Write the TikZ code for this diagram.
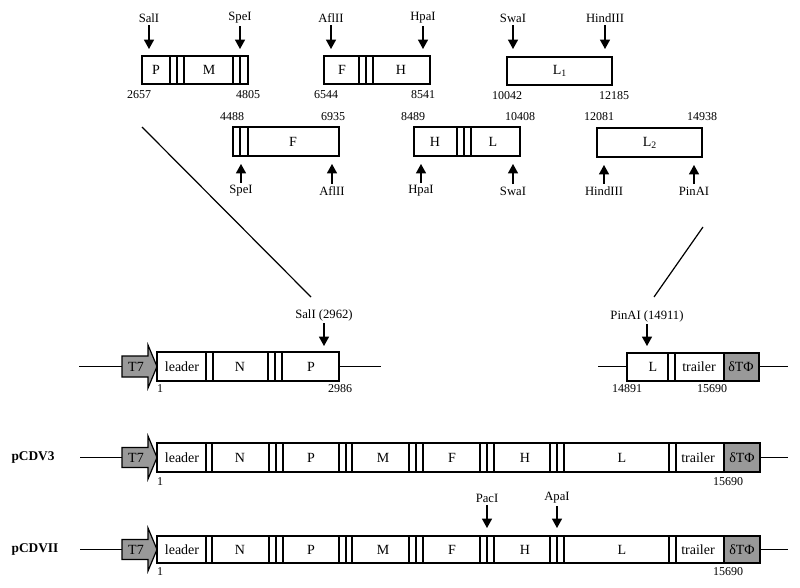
\documentclass[tikz,border=0pt]{standalone}
\usepackage{fontspec}
\setmainfont{Liberation Serif}
\usetikzlibrary{arrows.meta}
\definecolor{promgray}{gray}{0.6}
\begin{document}
\begin{tikzpicture}[x=0.75pt,y=-0.75pt,line width=0.9pt,
  gene/.style={font=\fontsize{10.5}{12}\selectfont},
  site/.style={font=\fontsize{9.5}{11}\selectfont, inner sep=1.5pt},
  ntpos/.style={font=\fontsize{9}{10}\selectfont, inner sep=0pt},
  cut/.style={-{Triangle[length=7pt,width=7.5pt]}},
  plasmid/.style={font=\bfseries\fontsize{10}{12}\selectfont}]
\useasboundingbox (0,0) rectangle (800,588);

% top row of fragments
\draw (142,56) rectangle (248,84);
\foreach \x in {170,177,184,233,240} \draw (\x,56) -- (\x,84);
\node[gene] (pA) at (156,70) {P};
\node[gene] (mA) at (209,70) {M};
\node[site] (salA) at (149,18) {SalI};
\coordinate (salAt) at (149,49);
\draw[cut] (salA) -- (salAt);
\node[site] (speA) at (240,18) {SpeI};
\coordinate (speAt) at (240,49);
\draw[cut] (speA) -- (speAt);
\node[ntpos] (n2657) at (139,95) {2657};
\node[ntpos] (n4805) at (248,95) {4805};

\draw (324,56) rectangle (430,84);
\foreach \x in {359,366,373} \draw (\x,56) -- (\x,84);
\node[gene] (fA) at (342,70) {F};
\node[gene] (hA) at (401,70) {H};
\node[site] (aflA) at (331,18) {AflII};
\coordinate (aflAt) at (331,49);
\draw[cut] (aflA) -- (aflAt);
\node[site] (hpaA) at (423,18) {HpaI};
\coordinate (hpaAt) at (423,49);
\draw[cut] (hpaA) -- (hpaAt);
\node[ntpos] (n6544) at (326,95) {6544};
\node[ntpos] (n8541) at (423,95) {8541};

\draw (507,57) rectangle (612,85);
\node[gene] (lA) at (560,71) {L\textsubscript{1}};
\node[site] (swaA) at (513,18) {SwaI};
\coordinate (swaAt) at (513,49);
\draw[cut] (swaA) -- (swaAt);
\node[site] (hindA) at (605,18) {HindIII};
\coordinate (hindAt) at (605,49);
\draw[cut] (hindA) -- (hindAt);
\node[ntpos] (n10042) at (507,96) {10042};
\node[ntpos] (n12185) at (614,96) {12185};

% second row of fragments
\draw (233,127) rectangle (339,156);
\foreach \x in {240,248} \draw (\x,127) -- (\x,156);
\node[gene] (fB) at (293,142) {F};
\node[ntpos] (n4488) at (232,117) {4488};
\node[ntpos] (n6935) at (333,117) {6935};
\node[site] (speB) at (241,191) {SpeI};
\coordinate (speBt) at (241,164);
\draw[cut] (speB) -- (speBt);
\node[site] (aflB) at (332,191) {AflII};
\coordinate (aflBt) at (332,164);
\draw[cut] (aflB) -- (aflBt);

\draw (414,127) rectangle (520,156);
\foreach \x in {457,464,471} \draw (\x,127) -- (\x,156);
\node[gene] (hB) at (435,142) {H};
\node[gene] (lB) at (493,142) {L};
\node[ntpos] (n8489) at (413,117) {8489};
\node[ntpos] (n10408) at (520,117) {10408};
\node[site] (hpaB) at (421,191) {HpaI};
\coordinate (hpaBt) at (421,164);
\draw[cut] (hpaB) -- (hpaBt);
\node[site] (swaB) at (513,191) {SwaI};
\coordinate (swaBt) at (513,164);
\draw[cut] (swaB) -- (swaBt);

\draw (597,128) rectangle (702,157);
\node[gene] (lC) at (650,143) {L\textsubscript{2}};
\node[ntpos] (n12081) at (599,117) {12081};
\node[ntpos] (n14938) at (702,117) {14938};
\node[site] (hindB) at (604,191) {HindIII};
\coordinate (hindBt) at (604,165);
\draw[cut] (hindB) -- (hindBt);
\node[site] (pinB) at (694,191) {PinAI};
\coordinate (pinBt) at (694,165);
\draw[cut] (pinB) -- (pinBt);

% lines to the end pieces
\draw (142,127) -- (311,297);
\draw (703,227) -- (654,297);

% left end piece
\draw (79,366.5) -- (122,366.5);
\draw[fill=promgray] (122,356) -- (148,356) -- (148,345) -- (157,366.5) -- (148,388) -- (148,377) -- (122,377) -- cycle;
\node[gene] (tC) at (136,366.5) {T7};
\draw (157,352) rectangle (339,381);
\foreach \x in {206,213,268,275,282} \draw (\x,352) -- (\x,381);
\draw (339,366.5) -- (381,366.5);
\node[gene] (leadC) at (182,366.5) {leader};
\node[gene] (nC) at (240,366.5) {N};
\node[gene] (pC) at (311,366.5) {P};
\node[site] (salC) at (324,315) {SalI (2962)};
\coordinate (salCt) at (324,346);
\draw[cut] (salC) -- (salCt);
\node[ntpos] (n1C) at (160,389) {1};
\node[ntpos] (n2986) at (340,389) {2986};

% right end piece
\draw (598,366.5) -- (627,366.5);
\draw[fill=promgray] (724,353) rectangle (759,381);
\draw (627,353) rectangle (759,381);
\foreach \x in {668,675} \draw (\x,353) -- (\x,381);
\draw (759,366.5) -- (788,366.5);
\node[gene] (lD) at (653,367) {L};
\node[gene] (trD) at (699,367) {trailer};
\node[gene] (dtD) at (741,367) {δTΦ};
\node[site] (pinD) at (647,316) {PinAI (14911)};
\coordinate (pinDt) at (647,346);
\draw[cut] (pinD) -- (pinDt);
\node[ntpos] (n14891) at (627,389) {14891};
\node[ntpos] (n15690D) at (712,389) {15690};

% pCDV3
\node[plasmid] (cdv3) at (33,457.5) {pCDV3};
\draw (80,457.5) -- (122,457.5);
\draw[fill=promgray] (122,447.5) -- (148,447.5) -- (148,436) -- (157,457.5) -- (148,479) -- (148,467.5) -- (122,467.5) -- cycle;
\node[gene] (tE) at (136,457.5) {T7};
\draw[fill=promgray] (724,443) rectangle (760,472);
\draw (157,443) rectangle (760,472);
\foreach \x in {206,212,269,276,283,339,346,352,409,416,423,480,487,494,550,557,564,669,676} \draw (\x,443) -- (\x,472);
\draw (760,457.5) -- (788,457.5);
\node[gene] (leadE) at (182,457.5) {leader};
\node[gene] (nE) at (240,457.5) {N};
\node[gene] (pE) at (311,457.5) {P};
\node[gene] (mE) at (383,457.5) {M};
\node[gene] (fE) at (452,457.5) {F};
\node[gene] (hE) at (525,457.5) {H};
\node[gene] (lE) at (622,457.5) {L};
\node[gene] (trE) at (698,457.5) {trailer};
\node[gene] (dtE) at (742,457.5) {δTΦ};
\node[ntpos] (n1E) at (160,482) {1};
\node[ntpos] (n15690E) at (728,482) {15690};

% pCDVII
\node[plasmid] (cdv7) at (35,549.5) {pCDVII};
\draw (80,549.5) -- (122,549.5);
\draw[fill=promgray] (122,539.5) -- (148,539.5) -- (148,528) -- (157,549.5) -- (148,571) -- (148,559.5) -- (122,559.5) -- cycle;
\node[gene] (tF) at (136,549.5) {T7};
\draw[fill=promgray] (724,536) rectangle (760,563);
\draw (157,536) rectangle (760,563);
\foreach \x in {206,212,269,276,283,339,346,352,409,416,423,480,487,494,550,557,564,669,676} \draw (\x,536) -- (\x,563);
\draw (760,549.5) -- (788,549.5);
\node[gene] (leadF) at (182,549.5) {leader};
\node[gene] (nF) at (240,549.5) {N};
\node[gene] (pF) at (311,549.5) {P};
\node[gene] (mF) at (383,549.5) {M};
\node[gene] (fF) at (452,549.5) {F};
\node[gene] (hF) at (525,549.5) {H};
\node[gene] (lF) at (622,549.5) {L};
\node[gene] (trF) at (698,549.5) {trailer};
\node[gene] (dtF) at (742,549.5) {δTΦ};
\node[site] (pacF) at (487,498) {PacI};
\coordinate (pacFt) at (487,528);
\draw[cut] (pacF) -- (pacFt);
\node[site] (apaF) at (557,498) {ApaI};
\coordinate (apaFt) at (557,528);
\draw[cut] (apaF) -- (apaFt);
\node[ntpos] (n1F) at (160,572) {1};
\node[ntpos] (n15690F) at (728,572) {15690};

\end{tikzpicture}
\end{document}
